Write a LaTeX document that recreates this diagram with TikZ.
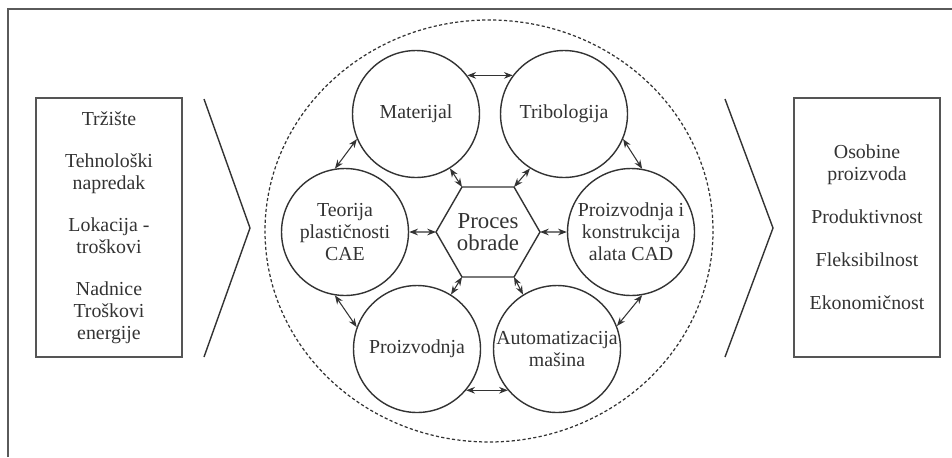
\documentclass[tikz,border=0pt]{standalone}
\usepackage{fontspec}
\setmainfont{Liberation Serif}
\usetikzlibrary{arrows.meta,positioning,shapes.geometric,calc}
\definecolor{ink}{HTML}{333333}
\definecolor{boxgray}{HTML}{555555}
\definecolor{framegray}{HTML}{5A5A5A}
\tikzset{
  bubble/.style={circle,draw=ink,line width=0.8pt,minimum size=2.54cm,inner sep=0pt,align=center,text=ink,font=\fontsize{11.3}{12.5}\selectfont},
  hexcore/.style={regular polygon,regular polygon sides=6,draw=ink,line width=0.8pt,minimum size=2.08cm,inner sep=0pt,outer sep=0pt,align=center,text=ink,font=\fontsize{13}{12.8}\selectfont},
  sidebox/.style={rectangle,draw=boxgray,line width=0.8pt,minimum width=2.92cm,minimum height=5.18cm,align=center,text=ink,font=\fontsize{11.3}{12.5}\selectfont},
  link/.style={{Stealth[length=5pt,width=3.8pt]}-{Stealth[length=5pt,width=3.8pt]},line width=0.6pt,ink},
  chevron/.style={draw=ink,line width=0.8pt},
  dotring/.style={draw=ink,line width=0.7pt,dash pattern=on 1.8pt off 1.3pt}
}
\begin{document}
\begin{tikzpicture}[x=0.02cm,y=-0.02cm]
    \useasboundingbox (0,0) rectangle (952,457);
    % outer frame
    \draw[framegray,line width=1.1pt] (8,457) -- (8,9) -- (952,9);
    % inputs and outputs
    \node[sidebox] (inputs) at (109,227.5) {Tržište\\[11.5pt]Tehnološki\\napredak\\[11.5pt]Lokacija -\\troškovi\\[11.5pt]Nadnice\\Troškovi\\energije};
    \node[sidebox] (outputs) at (867,227.5) {Osobine\\proizvoda\\[12pt]Produktivnost\\[12pt]Fleksibilnost\\[12pt]Ekonomičnost};
    \draw[chevron] (204,99) -- (250,228) -- (204,357);
    \draw[chevron] (725,99) -- (773,228) -- (725,357);
    % process ring
    \draw[dotring] (489,231) ellipse [x radius=224,y radius=211];
    \node[hexcore] (core) at (488,232) {Proces\\obrade};
    \node[bubble] (mat) at (416,114) {Materijal};
    \node[bubble] (trib) at (564,114) {Tribologija};
    \node[bubble] (teo) at (345,232) {Teorija\\plastičnosti\\CAE};
    \node[bubble] (tool) at (631,232) {Proizvodnja i\\konstrukcija\\alata CAD};
    \node[bubble] (prod) at (417,349) {Proizvodnja};
    \node[bubble] (auto) at (557,349) {Automatizacija\\mašina};
    % links
    \draw[link] (mat.37) -- (trib.143);
    \draw[link] (mat.203) -- (teo.99);
    \draw[link] (trib.-23) -- (tool.80);
    \draw[link] (teo.-99) -- (prod.160);
    \draw[link] (tool.-80) -- (auto.21);
    \draw[link] (prod.-40) -- (auto.-140);
    \draw[link] (mat.-58) -- (core.120);
    \draw[link] (trib.-122) -- (core.60);
    \draw[link] (teo.0) -- (core.180);
    \draw[link] (tool.180) -- (core.0);
    \draw[link] (prod.58) -- (core.240);
    \draw[link] (auto.122) -- (core.300);
\end{tikzpicture}
\end{document}
